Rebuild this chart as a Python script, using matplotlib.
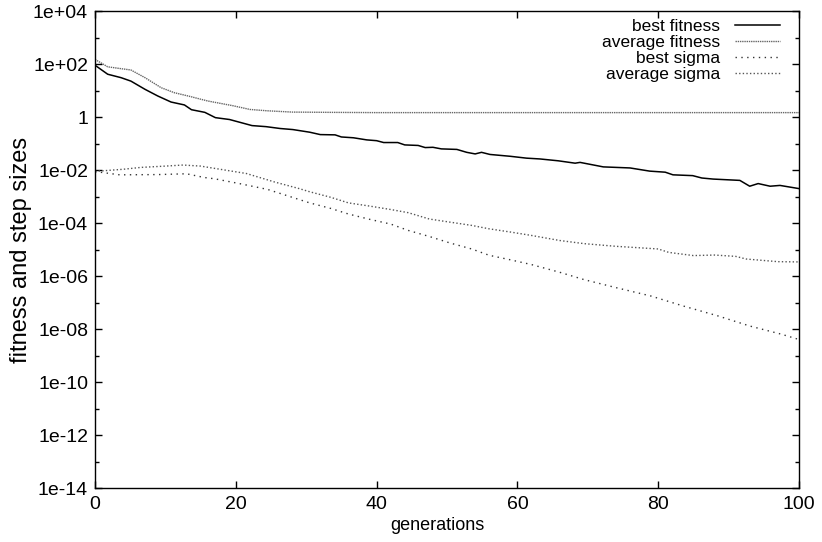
import matplotlib
matplotlib.use("Agg")
import matplotlib.pyplot as plt
import numpy as np

plt.rcParams['font.family'] = ['Liberation Sans', 'DejaVu Sans']
plt.rcParams['font.size'] = 14

# values, as log10 of the plotted quantity
gens_best_fitness = [0, 1.8, 3.7, 5.1, 7.1, 8.9, 10.8, 12.7, 13.7, 15.6,
                     17.1, 19.1, 22.3, 24.3, 26.3, 28.1, 30.5, 32, 34.1, 35,
                     36.7, 38.6, 40, 41, 43, 44, 45.9, 46.9, 48, 49.2,
                     51.4, 52.8, 54, 54.9, 56.1, 59, 61.3, 63.2, 65.8, 68.2,
                     68.9, 72.2, 76, 78.8, 81, 82.1, 84.9, 86.2, 87.8, 91.6,
                     93, 94.2, 95.9, 97.3, 100]
log_best_fitness = [1.97, 1.63, 1.50, 1.37, 1.06, 0.81, 0.58, 0.47, 0.29, 0.19,
                    -0.01, -0.08, -0.31, -0.35, -0.42, -0.46, -0.56, -0.65, -0.66, -0.74,
                    -0.77, -0.85, -0.88, -0.95, -0.95, -1.04, -1.06, -1.14, -1.13, -1.19,
                    -1.21, -1.32, -1.38, -1.32, -1.40, -1.47, -1.54, -1.57, -1.64, -1.73,
                    -1.70, -1.87, -1.91, -2.03, -2.07, -2.17, -2.20, -2.29, -2.33, -2.38,
                    -2.60, -2.50, -2.60, -2.57, -2.69]

gens_avg_fitness = [0, 1.8, 3.7, 5.1, 7.1, 9.4, 11.3, 13.2, 16, 19.6, 22,
                    24.4, 28, 33.4, 40, 50, 60, 70, 80, 90, 100]
log_avg_fitness = [2.19, 1.91, 1.84, 1.79, 1.50, 1.12, 0.93, 0.81, 0.62, 0.44, 0.30,
                   0.25, 0.20, 0.19, 0.18, 0.18, 0.18, 0.18, 0.18, 0.18, 0.18]

gens_best_sigma = [0, 1, 3.5, 9, 13, 15.5, 17, 20.5, 24.5, 28.5,
                   30.5, 33.5, 36, 39, 42, 44.5, 47.5, 50.5, 53.5, 56,
                   59, 62, 66, 69.5, 74, 79, 83.5, 88.5, 93, 97.5, 100]
log_best_sigma = [-2.06, -2.08, -2.17, -2.16, -2.13, -2.27, -2.32, -2.50, -2.72, -3.06,
                  -3.23, -3.44, -3.65, -3.85, -4.03, -4.27, -4.50, -4.75, -4.97, -5.21,
                  -5.38, -5.56, -5.85, -6.13, -6.43, -6.75, -7.12, -7.50, -7.88, -8.19, -8.39]

gens_avg_sigma = [0, 1, 4, 6.5, 10, 12.5, 15, 18, 21.5, 25.5, 29,
                  30.5, 33.5, 36, 39, 42, 44.5, 47.5, 50.5, 53.5, 56,
                  59, 62, 66, 69.5, 74, 80, 81.5, 85, 88, 91, 92.5, 97, 100]
log_avg_sigma = [-2.03, -2.02, -1.96, -1.89, -1.84, -1.80, -1.84, -1.97, -2.12, -2.44, -2.69,
                 -2.81, -3.02, -3.23, -3.35, -3.48, -3.60, -3.84, -3.96, -4.08, -4.21,
                 -4.33, -4.46, -4.65, -4.77, -4.87, -4.97, -5.10, -5.22, -5.20, -5.25, -5.35, -5.45, -5.46]

y_tick_values = [1e4, 1e2, 1, 1e-2, 1e-4, 1e-6, 1e-8, 1e-10, 1e-12, 1e-14]
y_tick_labels = ["1e+04", "1e+02", "1", "1e-02", "1e-04", "1e-06",
                 "1e-08", "1e-10", "1e-12", "1e-14"]
y_minor_values = [1e3, 1e1, 1e-1, 1e-3, 1e-5, 1e-7, 1e-9, 1e-11, 1e-13]
x_tick_values = [0, 20, 40, 60, 80, 100]

fig = plt.figure(figsize=(8.22, 5.42), dpi=100)
ax = fig.add_axes([0.1156, 0.0996, 0.8564, 0.8792])

ax.plot(gens_best_fitness, 10.0 ** np.array(log_best_fitness), color="black",
        lw=1.1, label="best fitness")
ax.plot(gens_avg_fitness, 10.0 ** np.array(log_avg_fitness), color="#666666",
        lw=1.0, linestyle=(0, (1, 0.6)), label="average fitness")
ax.plot(gens_best_sigma, 10.0 ** np.array(log_best_sigma), color="#333333",
        lw=1.0, linestyle=(0, (1, 3.2)), label="best sigma")
ax.plot(gens_avg_sigma, 10.0 ** np.array(log_avg_sigma), color="#555555",
        lw=1.0, linestyle=(0, (1, 1.6)), label="average sigma")

ax.set_yscale("log")
ax.set_xlim(0, 100)
ax.set_ylim(1e-14, 1e4)
ax.set_yticks(y_tick_values)
ax.set_yticklabels(y_tick_labels)
ax.set_yticks(y_minor_values, minor=True)
ax.yaxis.set_minor_formatter(matplotlib.ticker.NullFormatter())
ax.set_xticks(x_tick_values)
ax.tick_params(which="both", direction="in", top=True, right=True, width=1.0)
ax.tick_params(which="major", length=5)
ax.tick_params(which="minor", length=3)
ax.tick_params(axis="y", which="major", pad=5)
ax.tick_params(axis="x", which="major", pad=5.5)
for s in ax.spines.values():
    s.set_linewidth(1.0)

ax.set_xlabel("generations", fontsize=13)
ax.xaxis.set_label_coords(0.487, -0.060)
ax.xaxis.label.set_va("top")
ax.set_ylabel("fitness and step sizes", fontsize=17)
ax.yaxis.set_label_coords(-0.0895, 0.5)

ax.legend(loc="upper right", bbox_to_anchor=(0.973, 0.984), frameon=False,
          markerfirst=False, fontsize=12.5, handlelength=2.6, handletextpad=0.86,
          labelspacing=0.05, borderaxespad=0, borderpad=0)

fig.savefig("out.png", dpi=100)
